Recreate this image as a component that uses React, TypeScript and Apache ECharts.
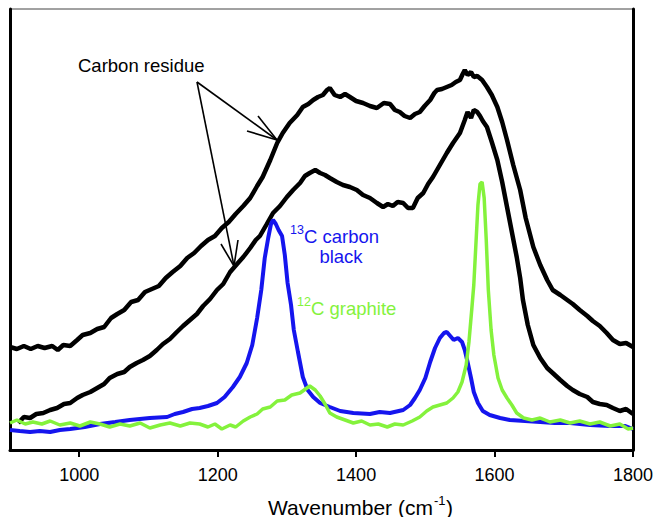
import React, { useEffect, useRef } from "react";
import * as echarts from "echarts";

// [wavenumber (cm-1), intensity (a.u.)]
const residueUpper: number[][] = [
  [900, 103], [910, 101], [920, 104], [930, 101], [940, 104], [950, 102], [961, 104], [969, 100], [977, 105], [987, 104],
  [997, 110], [1005, 115], [1016, 117], [1026, 121], [1036, 123], [1046, 132], [1055, 136], [1065, 140], [1075, 148], [1085, 150],
  [1095, 158], [1105, 161], [1115, 164], [1125, 172], [1135, 178], [1146, 184], [1156, 192], [1166, 197], [1176, 204], [1186, 210],
  [1196, 214], [1206, 222], [1216, 228], [1226, 236], [1237, 244], [1247, 252], [1257, 264], [1265, 273], [1276, 290], [1286, 307],
  [1294, 317], [1304, 327], [1315, 335], [1323, 343], [1331, 346], [1338, 350], [1345, 353], [1352, 355], [1358, 360], [1362, 362],
  [1369, 355], [1377, 353], [1384, 356], [1391, 353], [1400, 349], [1410, 347], [1420, 344], [1430, 342], [1440, 347], [1449, 346],
  [1456, 340], [1463, 338], [1470, 334], [1478, 332], [1485, 336], [1492, 338], [1499, 344], [1507, 350], [1513, 357], [1517, 360],
  [1524, 361], [1531, 363], [1538, 365], [1544, 368], [1550, 370], [1554, 376], [1557, 380], [1561, 375], [1566, 378], [1570, 373],
  [1575, 374], [1582, 370], [1589, 363], [1596, 355], [1604, 343], [1611, 328], [1618, 310], [1627, 285], [1637, 260], [1645, 232],
  [1656, 203], [1666, 185], [1676, 170], [1684, 160], [1695, 155], [1705, 150], [1713, 146], [1723, 140], [1734, 134], [1742, 129],
  [1752, 124], [1762, 117], [1771, 110], [1781, 106], [1790, 107], [1800, 103],
];

const residueLower: number[][] = [
  [912, 27], [920, 33], [929, 32], [938, 36], [948, 37], [958, 40], [968, 42], [978, 46], [987, 47], [997, 52],
  [1005, 55], [1016, 58], [1026, 62], [1036, 66], [1044, 72], [1055, 76], [1065, 78], [1073, 83], [1083, 87], [1092, 90],
  [1102, 94], [1112, 100], [1121, 106], [1131, 111], [1141, 118], [1150, 124], [1160, 130], [1170, 136], [1179, 144], [1189, 151],
  [1199, 160], [1208, 166], [1218, 178], [1228, 186], [1237, 193], [1247, 202], [1255, 210], [1261, 214], [1271, 226], [1280, 237],
  [1290, 244], [1300, 253], [1309, 260], [1319, 267], [1326, 274], [1333, 277], [1341, 280], [1348, 277], [1355, 275], [1362, 272],
  [1372, 268], [1381, 265], [1391, 263], [1401, 260], [1410, 255], [1420, 252], [1430, 247], [1439, 243], [1446, 246], [1453, 244],
  [1460, 248], [1468, 247], [1475, 242], [1482, 242], [1489, 252], [1497, 257], [1504, 266], [1511, 273], [1521, 285], [1531, 297],
  [1540, 307], [1550, 317], [1557, 330], [1561, 338], [1566, 332], [1570, 340], [1575, 338], [1579, 334], [1583, 329], [1589, 323],
  [1596, 308], [1604, 290], [1611, 268], [1618, 243], [1625, 218], [1632, 193], [1637, 172], [1641, 150], [1648, 125], [1656, 105],
  [1666, 92], [1676, 82], [1684, 77], [1695, 70], [1705, 64], [1713, 60], [1723, 56], [1734, 53], [1742, 48], [1752, 46],
  [1762, 45], [1771, 42], [1781, 39], [1790, 41], [1800, 36],
];

const carbonBlack13C: number[][] = [
  [900, 20], [914, 19], [929, 18], [943, 19], [958, 18], [972, 20], [987, 21], [1008, 23], [1030, 26], [1052, 28],
  [1073, 30], [1102, 32], [1127, 33], [1138, 36], [1150, 38], [1163, 41], [1174, 42], [1186, 44], [1199, 47], [1210, 53],
  [1222, 63], [1232, 73], [1242, 87], [1250, 105], [1257, 132], [1263, 160], [1268, 192], [1273, 212], [1277, 226], [1280, 230],
  [1284, 226], [1288, 220], [1293, 214], [1297, 195], [1301, 167], [1306, 145], [1310, 120], [1316, 98], [1323, 73], [1330, 60],
  [1338, 53], [1348, 47], [1362, 43], [1377, 39], [1396, 37], [1420, 36], [1434, 38], [1449, 37], [1468, 40], [1478, 45],
  [1485, 52], [1492, 60], [1500, 72], [1507, 88], [1514, 102], [1521, 112], [1527, 117], [1531, 118], [1536, 114], [1541, 110],
  [1547, 112], [1553, 108], [1557, 100], [1561, 88], [1566, 72], [1570, 58], [1576, 47], [1583, 39], [1593, 35], [1608, 32],
  [1622, 30], [1644, 29], [1666, 28], [1687, 27], [1709, 27], [1738, 25], [1767, 24], [1789, 24], [1800, 21],
];

const graphite12C: number[][] = [
  [900, 27], [910, 30], [922, 26], [933, 28], [946, 26], [958, 29], [972, 25], [987, 27], [1001, 24], [1016, 28],
  [1030, 26], [1044, 23], [1059, 26], [1073, 24], [1088, 27], [1102, 22], [1117, 25], [1131, 27], [1146, 24], [1160, 27],
  [1174, 26], [1186, 23], [1196, 26], [1206, 21], [1218, 25], [1226, 23], [1237, 29], [1247, 33], [1257, 36], [1265, 41],
  [1276, 43], [1286, 49], [1297, 50], [1307, 55], [1319, 57], [1327, 61], [1333, 64], [1341, 60], [1348, 54], [1355, 46],
  [1362, 37], [1372, 33], [1384, 30], [1396, 27], [1408, 29], [1420, 25], [1432, 26], [1445, 23], [1456, 26], [1468, 25],
  [1481, 29], [1492, 33], [1502, 39], [1511, 43], [1521, 45], [1531, 47], [1540, 52], [1547, 58], [1553, 68], [1559, 85],
  [1563, 108], [1567, 140], [1570, 165], [1573, 205], [1576, 245], [1579, 266], [1582, 268], [1585, 252], [1588, 210], [1591, 160],
  [1595, 120], [1599, 95], [1605, 72], [1611, 60], [1618, 52], [1625, 45], [1632, 37], [1642, 32], [1654, 30], [1666, 32],
  [1680, 28], [1695, 30], [1709, 27], [1723, 29], [1738, 26], [1752, 28], [1767, 24], [1781, 26], [1793, 21], [1800, 22],
];

const xTicks = [1000, 1200, 1400, 1600, 1800];

const FONT = '"Liberation Sans", Arial, Helvetica, sans-serif';
const BLUE = "#1515EE";
const GREEN = "#84F23C";

export default function App() {
  const ref = useRef<HTMLDivElement>(null);

  useEffect(() => {
    if (!ref.current) return;
    const chart = echarts.init(ref.current, null, { renderer: "svg" });
    const arrowStyle = { stroke: "#000", lineWidth: 1.6 };
    chart.setOption({
      animation: false,
      backgroundColor: "#fff",
      grid: {
        left: 10,
        right: 22,
        top: 9,
        bottom: 67,
        show: true,
        borderColor: "#444",
        borderWidth: 1,
        outerBoundsMode: "none",
      },
      xAxis: {
        type: "value",
        min: 900,
        max: 1800,
        axisLine: { show: true, onZero: false, lineStyle: { color: "#000", width: 3 } },
        axisTick: {
          show: true,
          inside: false,
          length: 7,
          customValues: xTicks,
          lineStyle: { color: "#000", width: 2 },
        },
        axisLabel: {
          customValues: xTicks,
          formatter: (v: number) => String(v),
          fontSize: 18,
          fontFamily: FONT,
          color: "#000",
          margin: 16,
        },
        splitLine: { show: false },
      },
      yAxis: [
        {
          type: "value",
          min: 0,
          max: 441,
          position: "left",
          axisLine: { show: true, onZero: false, lineStyle: { color: "#000", width: 3 } },
          axisTick: { show: false },
          axisLabel: { show: false },
          splitLine: { show: false },
        },
        {
          type: "value",
          min: 0,
          max: 441,
          position: "right",
          axisLine: { show: true, onZero: false, lineStyle: { color: "#000", width: 3 } },
          axisTick: { show: false },
          axisLabel: { show: false },
          splitLine: { show: false },
        },
      ],
      series: [
        {
          name: "Carbon residue (upper)",
          type: "line",
          data: residueUpper,
          showSymbol: false,
          lineStyle: { color: "#000", width: 4.5 },
        },
        {
          name: "Carbon residue (lower)",
          type: "line",
          data: residueLower,
          showSymbol: false,
          lineStyle: { color: "#000", width: 4.5 },
        },
        {
          name: "13C carbon black",
          type: "line",
          data: carbonBlack13C,
          showSymbol: false,
          lineStyle: { color: BLUE, width: 4 },
        },
        {
          name: "12C graphite",
          type: "line",
          data: graphite12C,
          showSymbol: false,
          lineStyle: { color: GREEN, width: 3.5 },
        },
      ],
      graphic: [
        {
          type: "text",
          x: 78,
          y: 65,
          style: { text: "Carbon residue", fontSize: 18.5, fontFamily: FONT, fill: "#000", align: "left", verticalAlign: "middle" },
        },
        { type: "line", shape: { x1: 197, y1: 82, x2: 277, y2: 140 }, style: arrowStyle },
        { type: "line", shape: { x1: 277, y1: 140, x2: 258, y2: 116 }, style: arrowStyle },
        { type: "line", shape: { x1: 277, y1: 140, x2: 247, y2: 131 }, style: arrowStyle },
        { type: "line", shape: { x1: 197, y1: 82, x2: 234, y2: 266 }, style: arrowStyle },
        { type: "line", shape: { x1: 234, y1: 266, x2: 238, y2: 240 }, style: arrowStyle },
        { type: "line", shape: { x1: 234, y1: 266, x2: 221, y2: 244 }, style: arrowStyle },
        {
          type: "text",
          x: 290,
          y: 230,
          style: { text: "13", fontSize: 12.5, fontFamily: FONT, fill: BLUE, align: "left", verticalAlign: "middle" },
        },
        {
          type: "text",
          x: 304,
          y: 236,
          style: { text: "C carbon", fontSize: 18.5, fontFamily: FONT, fill: BLUE, align: "left", verticalAlign: "middle" },
        },
        {
          type: "text",
          x: 341,
          y: 256,
          style: { text: "black", fontSize: 18.5, fontFamily: FONT, fill: BLUE, align: "center", verticalAlign: "middle" },
        },
        {
          type: "text",
          x: 297,
          y: 302,
          style: { text: "12", fontSize: 12.5, fontFamily: FONT, fill: GREEN, align: "left", verticalAlign: "middle" },
        },
        {
          type: "text",
          x: 311,
          y: 308,
          style: { text: "C graphite", fontSize: 18.5, fontFamily: FONT, fill: GREEN, align: "left", verticalAlign: "middle" },
        },
        {
          type: "text",
          x: 268,
          y: 507,
          style: { text: "Wavenumber (cm", fontSize: 21, fontFamily: FONT, fill: "#000", align: "left", verticalAlign: "middle" },
        },
        {
          type: "text",
          x: 434,
          y: 500,
          style: { text: "-1", fontSize: 13, fontFamily: FONT, fill: "#000", align: "left", verticalAlign: "middle" },
        },
        {
          type: "text",
          x: 446,
          y: 507,
          style: { text: ")", fontSize: 21, fontFamily: FONT, fill: "#000", align: "left", verticalAlign: "middle" },
        },
      ],
    });
    return () => chart.dispose();
  }, []);

  return (
    <div
      ref={ref}
      style={{ position: "fixed", left: 0, top: 0, width: 655, height: 517, background: "#fff" }}
    />
  );
}
